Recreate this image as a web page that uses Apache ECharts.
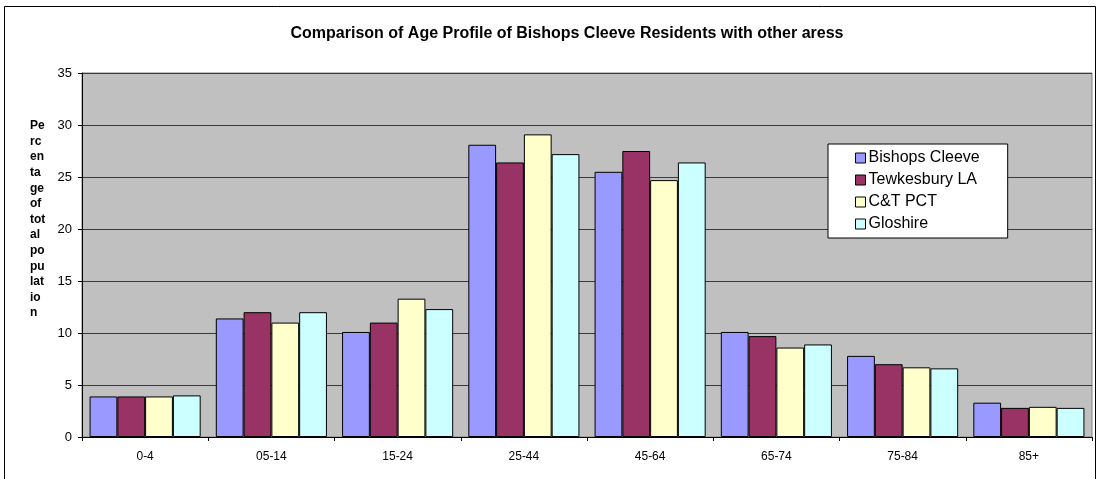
<!DOCTYPE html>
<html>
<head>
<meta charset="utf-8">
<script src="https://cdn.jsdelivr.net/npm/echarts@6/dist/echarts.min.js"></script>
<style>
  html, body { margin: 0; padding: 0; background: #fff; }
  #chart { width: 1100px; height: 479px; }
</style>
</head>
<body>
<div id="chart"></div>
<script>
// age bands
var categories = ['0-4', '05-14', '15-24', '25-44', '45-64', '65-74', '75-84', '85+'];
// percentage of total population
var bishopsCleeve = [3.9, 11.4, 10.1, 28.1, 25.5, 10.1, 7.8, 3.3];
var tewkesburyLA  = [3.9, 12.0, 11.0, 26.4, 27.5, 9.7, 7.0, 2.8];
var ctPCT         = [3.9, 11.0, 13.3, 29.1, 24.7, 8.6, 6.7, 2.9];
var gloshire      = [4.0, 12.0, 12.3, 27.2, 26.4, 8.9, 6.6, 2.8];
var yTicks = [0, 5, 10, 15, 20, 25, 30, 35];

var chart = echarts.init(document.getElementById('chart'));

function bar(name, data, color) {
  return {
    name: name,
    type: 'bar',
    data: data,
    barGap: '0%',
    barCategoryGap: '12%',
    itemStyle: { color: color, borderColor: '#000', borderWidth: 1 }
  };
}

var option = {
  animation: false,
  textStyle: { fontFamily: 'Liberation Sans, Arial, sans-serif' },
  title: {
    text: 'Comparison of Age Profile of Bishops Cleeve Residents with other aress',
    left: 566,
    textAlign: 'center',
    top: 21,
    textStyle: { fontSize: 16, fontWeight: 'bold', color: '#000' }
  },
  graphic: [
    {
      type: 'rect',
      shape: { x: 4.5, y: 6.5, width: 1091, height: 480 },
      style: { fill: null, stroke: '#000', lineWidth: 1 },
      z: -10
    },
    {
      type: 'text',
      left: 30,
      top: 118,
      style: {
        text: 'Pe\nrc\nen\nta\nge\nof\ntot\nal\npo\npu\nlat\nio\nn',
        font: 'bold 12px Liberation Sans, Arial, sans-serif',
        lineHeight: 15.6,
        fill: '#000'
      }
    }
  ],
  legend: {
    orient: 'vertical',
    left: 828,
    top: 144,
    padding: [5, 28, 5, 27],
    itemGap: 4,
    itemWidth: 10,
    itemHeight: 10,
    icon: 'rect',
    backgroundColor: '#fff',
    borderColor: '#000',
    borderWidth: 1,
    itemStyle: { borderColor: '#000', borderWidth: 1 },
    textStyle: { fontSize: 16, color: '#000', lineHeight: 18, padding: [0, 0, 0, -2] },
    data: ['Bishops Cleeve', 'Tewkesbury LA', 'C&T PCT', 'Gloshire']
  },
  grid: {
    left: 82,
    right: 8,
    top: 73,
    bottom: 42,
    show: true,
    backgroundColor: '#C0C0C0',
    borderColor: '#808080',
    borderWidth: 1
  },
  xAxis: {
    type: 'category',
    data: categories,
    axisLine: { lineStyle: { color: '#000' } },
    axisTick: { show: true, length: 4, lineStyle: { color: '#000' } },
    axisLabel: { fontSize: 12, color: '#000', margin: 14 }
  },
  yAxis: {
    type: 'value',
    min: yTicks[0],
    max: yTicks[yTicks.length - 1],
    interval: 5,
    axisLine: { show: true, lineStyle: { color: '#000' } },
    axisTick: { show: true, length: 4, lineStyle: { color: '#000' } },
    axisLabel: { fontSize: 13, color: '#000', margin: 10 },
    splitLine: { lineStyle: { color: '#3a3a3a', width: 1 } }
  },
  series: [
    bar('Bishops Cleeve', bishopsCleeve, '#9999FF'),
    bar('Tewkesbury LA', tewkesburyLA, '#993366'),
    bar('C&T PCT', ctPCT, '#FFFFCC'),
    bar('Gloshire', gloshire, '#CCFFFF')
  ]
};

option.title.left = 562;

chart.setOption(option);
</script>
</body>
</html>
